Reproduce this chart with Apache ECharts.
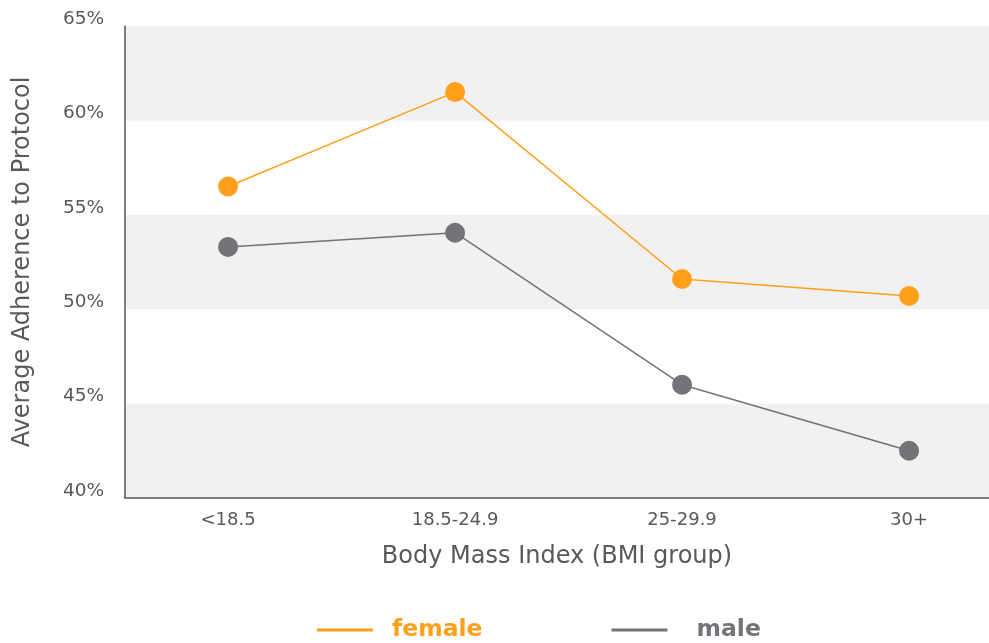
<!DOCTYPE html>
<html>
<head>
<meta charset="utf-8">
<script src="https://cdn.jsdelivr.net/npm/echarts@6/dist/echarts.min.js"></script>
<style>
  html, body { margin: 0; padding: 0; background: #fff; }
  #chart { width: 989px; height: 643px; }
</style>
</head>
<body>
<div id="chart"></div>
<script>
// BMI groups along the x axis
const categories = ['<18.5', '18.5-24.9', '25-29.9', '30+'];
// Average adherence to protocol, in percent
const femaleValues = [56.5, 61.5, 51.6, 50.7];
const maleValues = [53.3, 54.05, 46.0, 42.5];
// Y axis range and step (percent)
const yTicks = { min: 40, max: 65, step: 5 };

const ORANGE = '#FFA01C';
const GREY = '#737378';
const TEXT = '#595959';
const FONT = 'DejaVu Sans';

// x positions are the category indexes on a numeric axis
const toPoints = vals => vals.map((v, i) => [i, v]);

const chart = echarts.init(document.getElementById('chart'), null, { renderer: 'canvas' });
chart.setOption({
  animation: false,
  grid: { left: 125, right: 0, top: 26, bottom: 145, containLabel: false },
  xAxis: {
    type: 'value',
    min: -0.454,
    max: 3.352,
    name: 'Body Mass Index (BMI group)',
    nameLocation: 'middle',
    nameGap: 47,
    nameTextStyle: { color: TEXT, fontSize: 24, fontFamily: FONT },
    axisLine: { show: true, onZero: false, lineStyle: { color: '#555', width: 1.5 } },
    axisTick: { show: false },
    splitLine: { show: false },
    axisLabel: {
      customValues: categories.map((c, i) => i),
      formatter: v => categories[Math.round(v)],
      color: TEXT,
      fontSize: 18,
      fontFamily: FONT,
      margin: 13
    }
  },
  yAxis: {
    type: 'value',
    min: yTicks.min,
    max: yTicks.max,
    interval: yTicks.step,
    name: 'Average Adherence to Protocol',
    nameLocation: 'middle',
    nameGap: 90,
    nameTextStyle: { color: TEXT, fontSize: 24, fontFamily: FONT },
    axisLine: { show: true, onZero: false, lineStyle: { color: '#555', width: 1.5 } },
    axisTick: { show: false },
    splitLine: { show: false },
    splitArea: { show: true, areaStyle: { color: ['#f1f1f1', '#ffffff'] } },
    axisLabel: {
      formatter: '{value}%',
      color: TEXT,
      fontSize: 18.5,
      fontFamily: FONT,
      margin: 21,
      verticalAlign: 'bottom',
      lineHeight: 14
    }
  },
  legend: {
    top: 618,
    left: 317,
    padding: 0,
    icon: 'rect',
    itemWidth: 56,
    itemHeight: 3,
    itemGap: 129,
    textStyle: { fontSize: 23.5, fontWeight: 'bold', fontFamily: FONT, padding: [0, 0, 0, 14] },
    data: [
      { name: 'female', textStyle: { color: ORANGE } },
      { name: 'male', textStyle: { color: GREY, padding: [0, 0, 0, 24] } }
    ]
  },
  series: [
    {
      name: 'female',
      type: 'line',
      data: toPoints(femaleValues),
      symbol: 'circle',
      symbolSize: 20,
      itemStyle: { color: ORANGE },
      lineStyle: { color: ORANGE, width: 1.5 }
    },
    {
      name: 'male',
      type: 'line',
      data: toPoints(maleValues),
      symbol: 'circle',
      symbolSize: 20,
      itemStyle: { color: GREY },
      lineStyle: { color: GREY, width: 1.5 }
    }
  ]
});
</script>
</body>
</html>
